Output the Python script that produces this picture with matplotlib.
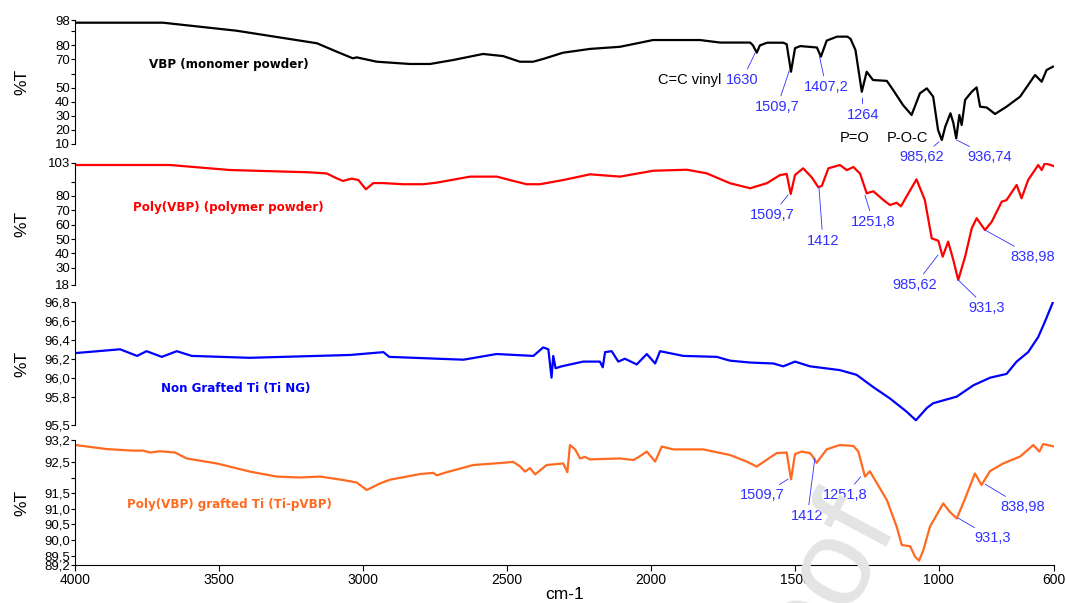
import matplotlib.pyplot as plt

plt.rcParams['font.family'] = ['Liberation Sans', 'DejaVu Sans']

# VBP monomer powder (black)
vbp_wn = [4000, 3696, 3440, 3161, 3092, 3036, 3023, 2953, 2838, 2768, 2688, 2584,
          2514, 2456, 2410, 2376, 2306, 2212, 2108, 1993, 1830, 1760, 1656, 1646,
          1633, 1622, 1597, 1541, 1529, 1514, 1500, 1482, 1424, 1410, 1390, 1354,
          1318, 1307, 1290, 1268, 1251, 1229, 1181, 1159, 1125, 1095, 1066, 1042,
          1020, 1003, 990, 978, 960, 950, 940, 929, 921, 909, 886, 869, 857, 834,
          805, 765, 718, 666, 643, 626, 604]
vbp_t = [96.1, 96.1, 90.4, 81.5, 75.5, 70.8, 71.5, 68.4, 66.8, 66.8, 69.6, 73.9,
         72.4, 68.4, 68.4, 70.3, 74.8, 77.5, 79.0, 83.8, 83.8, 82.0, 82.0, 80.0,
         74.8, 80.0, 81.9, 81.9, 80.8, 61.3, 78.0, 79.5, 78.5, 72.0, 83.4, 86.2,
         86.2, 84.6, 76.7, 47.1, 61.3, 55.4, 54.8, 48.3, 37.7, 30.6, 46.0, 49.5,
         43.6, 19.9, 12.8, 22.3, 31.8, 25.0, 14.0, 30.6, 23.5, 41.3, 47.1, 50.2,
         36.5, 35.9, 31.3, 36.5, 43.6, 59.0, 54.2, 62.5, 64.9]

# Poly(VBP) polymer powder (red)
pvbp_wn = [4000, 3672, 3463, 3185, 3127, 3092, 3071, 3040, 3017, 2991, 2965, 2930,
           2862, 2792, 2745, 2629, 2536, 2479, 2432, 2386, 2306, 2212, 2108, 1993,
           1876, 1807, 1726, 1656, 1598, 1552, 1529, 1515, 1500, 1472, 1442, 1419,
           1407, 1384, 1344, 1320, 1297, 1274, 1251, 1228, 1193, 1170, 1147, 1132,
           1113, 1078, 1049, 1025, 1002, 987, 968, 950, 933, 909, 886, 869, 840,
           817, 782, 765, 730, 713, 690, 655, 643, 632, 603]
pvbp_t = [101.6, 101.6, 98.1, 96.5, 95.7, 92.3, 90.5, 92.1, 91.1, 84.7, 89.0, 89.0,
          88.2, 88.2, 89.3, 93.5, 93.5, 90.5, 88.2, 88.2, 91.1, 95.1, 93.5, 97.6,
          98.3, 95.8, 88.9, 85.4, 88.9, 94.6, 95.4, 81.4, 94.6, 99.3, 93.0, 86.1,
          87.0, 99.3, 101.6, 98.0, 100.2, 95.6, 81.9, 83.3, 77.2, 73.7, 75.3, 72.8,
          79.5, 91.6, 77.2, 50.5, 48.8, 37.7, 48.2, 35.4, 21.5, 37.7, 57.5, 64.5,
          56.3, 61.9, 76.0, 77.2, 87.7, 78.4, 91.2, 101.6, 98.1, 102.8, 101.0]

# Non grafted Ti (blue)
tng_wn = [4000, 3845, 3786, 3753, 3700, 3648, 3596, 3394, 3046, 2930, 2910, 2652,
          2537, 2409, 2375, 2357, 2346, 2340, 2332, 2311, 2236, 2178, 2168, 2160,
          2137, 2114, 2091, 2050, 2015, 1986, 1969, 1888, 1772, 1726, 1656, 1575,
          1541, 1500, 1448, 1344, 1286, 1228, 1170, 1112, 1080, 1042, 1020, 938,
          880, 822, 765, 730, 690, 655, 632, 605]
tng_t = [96.26, 96.30, 96.23, 96.28, 96.22, 96.28, 96.23, 96.21, 96.24, 96.27, 96.22,
         96.19, 96.25, 96.23, 96.32, 96.30, 96.00, 96.23, 96.10, 96.12, 96.17, 96.17,
         96.11, 96.27, 96.28, 96.17, 96.20, 96.14, 96.25, 96.15, 96.28, 96.23, 96.22,
         96.18, 96.16, 96.15, 96.12, 96.17, 96.12, 96.08, 96.03, 95.90, 95.78, 95.64,
         95.55, 95.68, 95.73, 95.80, 95.92, 96.00, 96.04, 96.17, 96.27, 96.43, 96.59,
         96.79]

# Poly(VBP) grafted Ti (orange)
tip_wn = [4000, 3892, 3800, 3765, 3741, 3706, 3654, 3614, 3509, 3394, 3301, 3220,
          3150, 3070, 3023, 2988, 2942, 2907, 2803, 2757, 2745, 2710, 2618, 2514,
          2479, 2456, 2438, 2421, 2403, 2363, 2305, 2291, 2282, 2264, 2247, 2230,
          2212, 2108, 2062, 2044, 2015, 1986, 1963, 1923, 1819, 1726, 1668, 1633,
          1598, 1564, 1529, 1514, 1500, 1477, 1448, 1439, 1425, 1390, 1344, 1297,
          1280, 1257, 1240, 1181, 1147, 1129, 1100, 1083, 1069, 1054, 1031, 985,
          962, 938, 909, 875, 852, 823, 777, 718, 672, 651, 638, 603]
tip_t = [93.04, 92.91, 92.86, 92.86, 92.80, 92.84, 92.80, 92.61, 92.45, 92.19, 92.03,
         92.00, 92.03, 91.92, 91.84, 91.60, 91.81, 91.93, 92.11, 92.15, 92.07, 92.17,
         92.40, 92.47, 92.50, 92.36, 92.19, 92.30, 92.10, 92.40, 92.45, 92.17, 93.04,
         92.90, 92.61, 92.66, 92.58, 92.61, 92.56, 92.65, 92.83, 92.51, 92.99, 92.90,
         92.90, 92.72, 92.51, 92.35, 92.57, 92.78, 92.80, 91.94, 92.75, 92.83, 92.78,
         92.68, 92.47, 92.90, 93.04, 93.01, 92.83, 92.03, 92.20, 91.28, 90.43, 89.84,
         89.80, 89.47, 89.34, 89.68, 90.43, 91.17, 90.90, 90.69, 91.33, 92.13, 91.76,
         92.20, 92.45, 92.67, 93.04, 92.83, 93.07, 93.00]

# (label, band wn, band %T, text wn, text %T)
vbp_peaks = [("1630", 1639, 74.4, 1684, 55.4), ("1509,7", 1520, 62.0, 1562, 36.3),
             ("1407,2", 1416, 73.2, 1392, 50.4), ("1264", 1266, 42.6, 1264, 30.6),
             ("985,62", 1000, 11.6, 1059, 0.8), ("936,74", 938, 12.8, 822, 0.8)]
pvbp_peaks = [("1509,7", 1524, 80.7, 1580, 66.8), ("1412", 1417, 86.3, 1403, 48.9),
              ("1251,8", 1257, 80.7, 1229, 62.1), ("985,62", 1003, 38.9, 1083, 18.0),
              ("931,3", 933, 21.5, 833, 2.0), ("838,98", 840, 56.3, 673, 37.7)]
tip_peaks = [("1509,7", 1524, 91.95, 1613, 91.44), ("1412", 1431, 92.62, 1457, 90.77),
             ("1251,8", 1272, 92.02, 1326, 91.44), ("931,3", 933, 90.70, 814, 90.06),
             ("838,98", 840, 91.79, 708, 91.06)]

panels = [
    dict(wn=vbp_wn, t=vbp_t, color='black', name='VBP (monomer powder)',
         name_pos=(3744, 66.1), ylim=(10, 98),
         ticks=[98, 90, 80, 70, 60, 50, 40, 30, 20, 10],
         labels=['98', '', '80', '70', '', '50', '40', '30', '20', '10'],
         peaks=vbp_peaks),
    dict(wn=pvbp_wn, t=pvbp_t, color='#ff0000', name='Poly(VBP) (polymer powder)',
         name_pos=(3800, 71.9), ylim=(18, 103),
         ticks=[103, 90, 80, 70, 60, 50, 40, 30, 18],
         labels=['103', '', '80', '70', '60', '50', '40', '30', '18'],
         peaks=pvbp_peaks),
    dict(wn=tng_wn, t=tng_t, color='#0000ff', name='Non Grafted Ti (Ti NG)',
         name_pos=(3703, 95.89), ylim=(95.5, 96.8),
         ticks=[96.8, 96.6, 96.4, 96.2, 96.0, 95.8, 95.5],
         labels=['96,8', '96,6', '96,4', '96,2', '96,0', '95,8', '95,5'],
         peaks=[]),
    dict(wn=tip_wn, t=tip_t, color='#ff6a21', name='Poly(VBP) grafted Ti (Ti-pVBP)',
         name_pos=(3821, 91.15), ylim=(89.2, 93.2),
         ticks=[93.2, 92.5, 92.0, 91.5, 91.0, 90.5, 90.0, 89.5, 89.2],
         labels=['93,2', '92,5', '', '91,5', '91,0', '90,5', '90,0', '89,5', '89,2'],
         peaks=tip_peaks),
]

ann_color = '#3030ff'
fig = plt.figure(figsize=(10.66, 6.03), dpi=100)
bottoms = [0.7612, 0.5274, 0.2952, 0.0630]
heights = [0.2056, 0.2023, 0.2040, 0.2073]

for i, p in enumerate(panels):
    ax = fig.add_axes([0.0708, bottoms[i], 0.918, heights[i]])
    ax.patch.set_visible(False)
    ax.plot(p['wn'], p['t'], color=p['color'], lw=1.6)
    ax.set_xlim(4000, 600)
    ax.set_ylim(*p['ylim'])
    ax.set_yticks(p['ticks'])
    ax.set_yticklabels(p['labels'])
    ax.tick_params(axis='y', length=3, width=0.8, pad=1, labelsize=9.5)
    for s in ['top', 'right']:
        ax.spines[s].set_visible(False)
    ax.spines['left'].set_linewidth(0.8)
    ax.set_ylabel('%T', fontsize=12.5)
    ax.yaxis.set_label_coords(-0.047, 0.5)
    if i < 3:
        ax.spines['bottom'].set_visible(False)
        ax.set_xticks([])
    else:
        ax.spines['bottom'].set_linewidth(0.8)
        ax.set_xticks([4000, 3500, 3000, 2500, 2000, 1500, 1000, 600])
        ax.tick_params(axis='x', length=4, width=0.8, labelsize=10, pad=2)
        ax.set_xlabel('cm-1', fontsize=12.5, labelpad=0)
    ax.text(p['name_pos'][0], p['name_pos'][1], p['name'], color=p['color'],
            fontsize=8.6, fontweight='bold', family='DejaVu Sans', va='center')
    for lab, x0, y0, xt, yt in p['peaks']:
        ax.annotate(lab, xy=(x0, y0), xytext=(xt, yt), color=ann_color,
                    fontsize=10.5, ha='center', va='center', annotation_clip=False,
                    arrowprops=dict(arrowstyle='-', color=ann_color, lw=0.6,
                                    shrinkA=1, shrinkB=0))
    if i == 0:
        ax.text(1865, 55.4, 'C=C vinyl', fontsize=10.5, ha='center', va='center')
        ax.text(1292, 14.3, 'P=O', fontsize=10.5, ha='center', va='center')
        ax.text(1108, 14.3, 'P-O-C', fontsize=10.5, ha='center', va='center')

# faint "proof" watermark fragment at the bottom of the page
fig.text(895 / 1066, 1 - 517 / 603, 'proof', rotation=62, rotation_mode='anchor',
         ha='right', va='baseline', fontsize=90, color='#e4e4e4', zorder=10)

fig.savefig('out.png', dpi=100)
